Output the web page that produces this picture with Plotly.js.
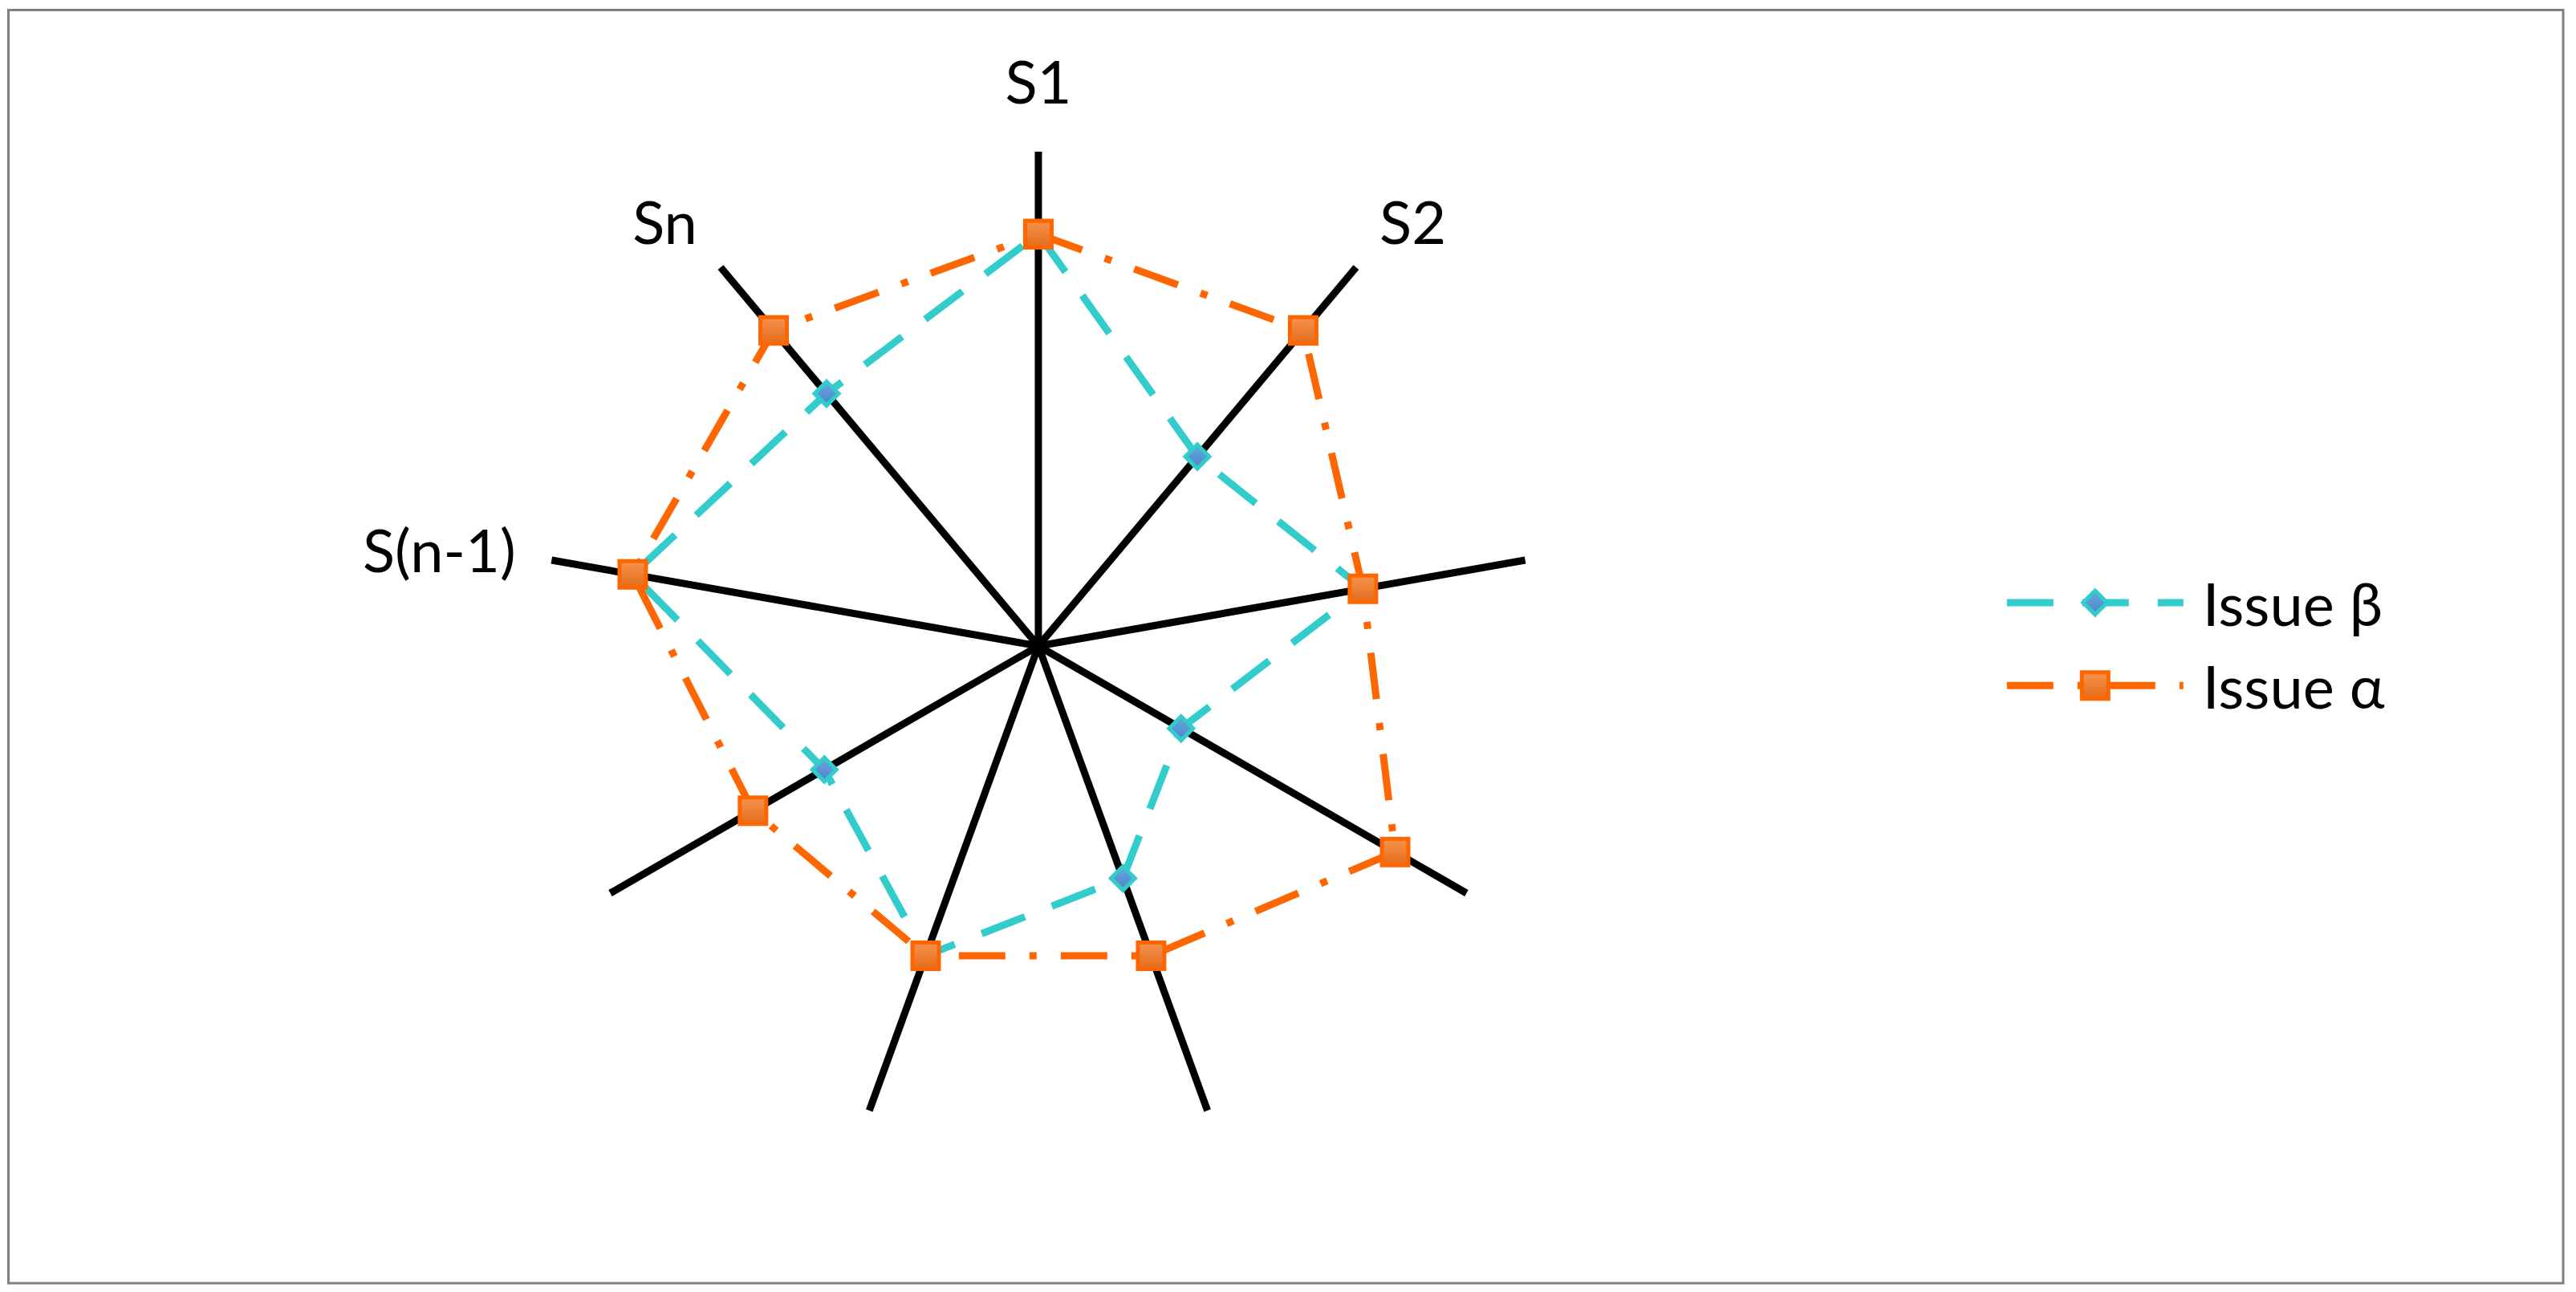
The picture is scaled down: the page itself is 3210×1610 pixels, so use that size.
<!DOCTYPE html>
<html>
<head>
<meta charset="utf-8">
<script src="https://cdn.plot.ly/plotly-3.0.1.min.js"></script>
<style>
  html, body { margin: 0; padding: 0; background: #fff; }
  #chart { width: 3210px; height: 1610px; }
</style>
</head>
<body>
<div id="chart"></div>
<script>
// spokes, clockwise from the top
var spokeAngles = [0, 40, 80, 120, 160, 200, 240, 280, 320];
var spokeLabels = ['S1', 'S2', '', '', '', '', '', 'S(n-1)', 'Sn'];

var issueBeta  = [5, 3, 4, 2, 3, 4, 3, 5, 4];
var issueAlpha = [5, 5, 4, 5, 4, 4, 4, 5, 5];

var seriesNames = ['\u00a0Issue \u03b2', '\u00a0Issue \u03b1'];

// close the polygon by repeating the first point
function closed(arr) {
    return arr.concat([arr[0]]);
}

var fontFamily = 'Lato, "Noto Sans", sans-serif';

var markerSizes = [23, 33];

var traceBeta = {
    type: 'scatterpolar',
    mode: 'lines+markers',
    name: seriesNames[0],
    legendgroup: 'beta',
    r: closed(issueBeta),
    theta: closed(spokeAngles),
    line: { color: '#33cccc', width: 9, dash: '58px,36px' },
    marker: {
        symbol: 'diamond',
        size: markerSizes[0],
        color: '#6aa6de',
        gradient: { type: 'vertical', color: '#4a86c8' },
        line: { color: '#33cccc', width: 5 }
    },
    cliponaxis: false
};

var traceAlpha = {
    type: 'scatterpolar',
    mode: 'lines+markers',
    name: seriesNames[1],
    legendgroup: 'alpha',
    r: closed(issueAlpha),
    theta: closed(spokeAngles),
    line: { color: '#ff6600', width: 9, dash: '58px,30px,9px,30px' },
    marker: {
        symbol: 'square',
        size: markerSizes[1],
        color: '#f5934f',
        gradient: { type: 'vertical', color: '#e46c1a' },
        line: { color: '#ff6600', width: 5 }
    },
    cliponaxis: false
};

var layout = {
    width: 3210,
    height: 1610,
    margin: { l: 0, r: 0, t: 0, b: 0 },
    paper_bgcolor: '#ffffff',
    font: { family: fontFamily, size: 74, color: '#000000' },
    showlegend: true,
    legend: {
        x: 0.7775,
        y: 0.5675,
        xanchor: 'left',
        yanchor: 'top',
        bgcolor: 'rgba(0,0,0,0)',
        itemwidth: 220,
        traceorder: 'grouped',
        tracegroupgap: 4,
        font: { family: fontFamily, size: 74, color: '#000000' }
    },
    polar: {
        domain: { x: [0.2112, 0.5950], y: [0.1174, 0.8826] },
        bgcolor: '#ffffff',
        radialaxis: {
            range: [0, 6],
            showgrid: false,
            showline: false,
            showticklabels: false,
            ticks: ''
        },
        angularaxis: {
            type: 'linear',
            thetaunit: 'degrees',
            rotation: 90,
            direction: 'clockwise',
            tickmode: 'array',
            tickvals: spokeAngles,
            ticktext: spokeLabels,
            showgrid: true,
            gridcolor: '#000000',
            gridwidth: 9,
            showline: false,
            ticks: 'outside',
            ticklen: 30,
            tickcolor: 'rgba(0,0,0,0)',
            tickfont: { family: fontFamily, size: 74, color: '#000000' }
        }
    },
    shapes: [{
        type: 'rect',
        xref: 'paper', yref: 'paper',
        x0: 0.00327, x1: 0.99502,
        y0: 0.00683, y1: 0.99224,
        line: { color: '#808080', width: 3 },
        fillcolor: 'rgba(0,0,0,0)',
        layer: 'above'
    }]
};

Plotly.newPlot('chart', [traceBeta, traceAlpha], layout, { staticPlot: true }).then(function (gd) {
    // legend markers are capped at 16px by plotly, blow them up to plot size
    var legendPts = gd.querySelectorAll('.legend .traces');
    for (var i = 0; i < legendPts.length; i++) {
        var paths = legendPts[i].querySelectorAll('.legendpoints path.scatterpts');
        var k = markerSizes[i] / 16;
        for (var j = 0; j < paths.length; j++) {
            var t = paths[j].getAttribute('transform') || '';
            paths[j].setAttribute('transform', t + ' scale(' + k + ')');
            paths[j].style.vectorEffect = 'non-scaling-stroke';
        }
    }
});
</script>
</body>
</html>
